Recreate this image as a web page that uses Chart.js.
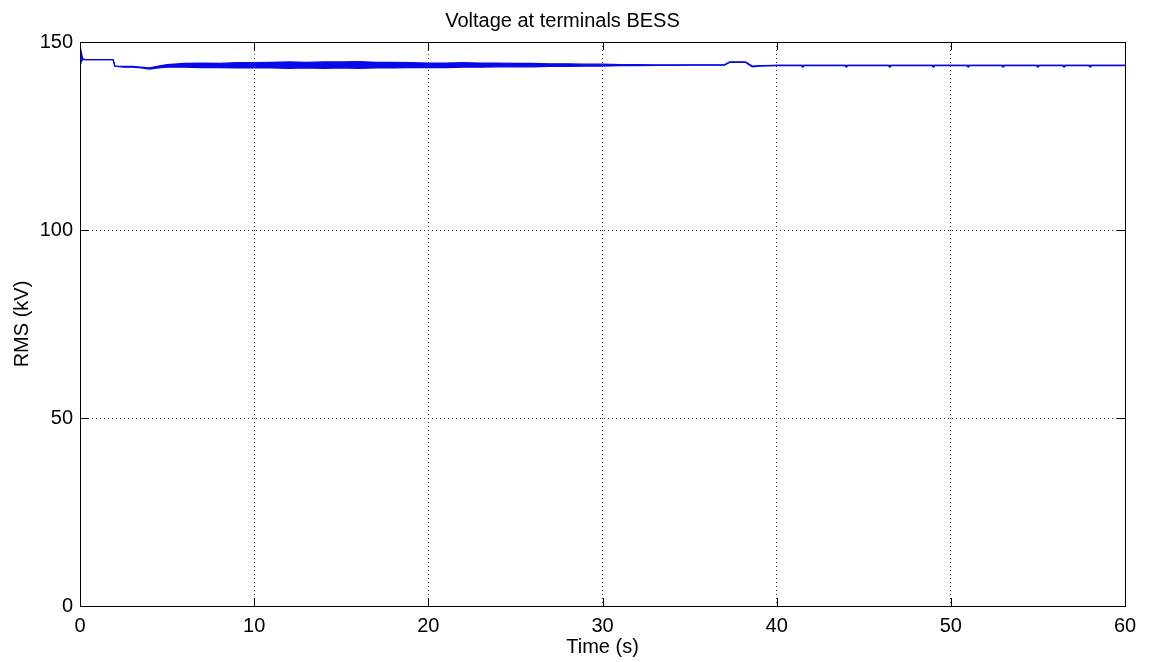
<!DOCTYPE html>
<html>
<head>
<meta charset="utf-8">
<script src="https://cdn.jsdelivr.net/npm/chart.js@4.4.1/dist/chart.umd.min.js"></script>
<style>
  html, body { margin: 0; padding: 0; background: #ffffff; }
  #wrap { width: 1152px; height: 662px; }
</style>
</head>
<body>
<div id="wrap"><canvas id="c" width="1152" height="662"></canvas></div>
<script>
// Sample times (s)
const timeS = [0, 0.05, 0.15, 0.3, 1.9, 2.0, 2.5, 3, 3.5, 4, 4.5, 5, 6, 7, 8, 9, 10, 11, 12, 13, 14, 15, 16, 17, 18, 19, 20,
  21, 22, 23, 24, 25, 26, 27, 28, 29, 30, 31, 32, 33, 34, 35, 36, 37, 37.3, 38.2, 38.6, 39, 40,
  41.4, 41.5, 41.6, 43.9, 44.0, 44.1, 46.4, 46.5, 46.6, 48.9, 49.0, 49.1, 50.9, 51.0, 51.1,
  52.9, 53.0, 53.1, 54.9, 55.0, 55.1, 56.4, 56.5, 56.6, 57.9, 58.0, 58.1, 60];

// Upper envelope of the RMS voltage oscillation (kV)
const vUpper = [145.0, 147.8, 145.6, 145.3, 145.3, 143.6, 143.5, 143.5, 143.3, 143.1, 143.6, 144.0, 144.3, 144.4, 144.3, 144.5,
  144.5, 144.6, 144.7, 144.6, 144.7, 144.7, 144.8, 144.6, 144.6, 144.5, 144.4, 144.4, 144.5, 144.4, 144.4, 144.3, 144.3, 144.2,
  144.2, 144.1, 144.1, 144.0, 144.0, 143.9, 143.9, 143.9, 143.9, 143.9, 144.7, 144.7, 143.6, 143.7, 143.8,
  143.8, 143.8, 143.8, 143.8, 143.8, 143.8, 143.8, 143.8, 143.8, 143.8, 143.8, 143.8, 143.8, 143.8, 143.8,
  143.8, 143.8, 143.8, 143.8, 143.8, 143.8, 143.8, 143.8, 143.8, 143.8, 143.8, 143.8, 143.8];

// Lower envelope of the RMS voltage oscillation (kV)
const vLower = [145.0, 144.6, 145.3, 145.3, 145.3, 143.6, 143.3, 143.3, 143.1, 142.8, 143.1, 143.3, 143.3, 143.2, 143.2, 143.1,
  143.1, 143.1, 143.0, 143.1, 143.0, 143.1, 143.0, 143.1, 143.1, 143.2, 143.2, 143.2, 143.3, 143.3, 143.4, 143.4, 143.4, 143.5,
  143.5, 143.6, 143.6, 143.7, 143.7, 143.8, 143.8, 143.85, 143.85, 143.85, 144.6, 144.6, 143.4, 143.6, 143.75,
  143.75, 143.3, 143.75, 143.75, 143.3, 143.75, 143.75, 143.3, 143.75, 143.75, 143.3, 143.75, 143.75, 143.3, 143.75,
  143.75, 143.3, 143.75, 143.75, 143.3, 143.75, 143.75, 143.3, 143.75, 143.75, 143.3, 143.75, 143.75];

const xTicks = [0, 10, 20, 30, 40, 50, 60];
const yTicks = [0, 50, 100, 150];

const titleText = 'Voltage at terminals BESS';
const xLabel = 'Time (s)';
const yLabel = 'RMS (kV)';

const FONT = 'Liberation Sans, Arial, Helvetica, sans-serif';
const LINE = '#0808e8';

const upperPts = timeS.map((t, i) => ({ x: t, y: vUpper[i] }));
const lowerPts = timeS.map((t, i) => ({ x: t, y: vLower[i] }));

// Box around the axes plus inward tick marks on all four sides
const axesBox = {
  id: 'axesBox',
  afterDatasetsDraw(chart) {
    const { ctx, chartArea: a, scales: { x, y } } = chart;
    const len = 8;
    ctx.save();
    ctx.strokeStyle = '#000';
    ctx.lineWidth = 1;
    ctx.beginPath();
    xTicks.slice(1, -1).forEach(v => {
      const px = Math.round(x.getPixelForValue(v)) + 0.5;
      ctx.moveTo(px, a.bottom); ctx.lineTo(px, a.bottom - len);
      ctx.moveTo(px, a.top); ctx.lineTo(px, a.top + len);
    });
    yTicks.slice(1, -1).forEach(v => {
      const py = Math.round(y.getPixelForValue(v)) + 0.5;
      ctx.moveTo(a.left, py); ctx.lineTo(a.left + len, py);
      ctx.moveTo(a.right, py); ctx.lineTo(a.right - len, py);
    });
    ctx.stroke();
    ctx.strokeRect(Math.round(a.left) + 0.5, Math.round(a.top) + 0.5,
      Math.round(a.right - a.left), Math.round(a.bottom - a.top));
    ctx.restore();
  }
};

const edgeless = (ctx, lastVal) => {
  const v = ctx.tick ? ctx.tick.value : null;
  return (v === 0 || v === lastVal) ? 'rgba(0,0,0,0)' : '#333';
};

new Chart(document.getElementById('c'), {
  type: 'line',
  data: {
    datasets: [
      { data: upperPts, borderColor: LINE, borderWidth: 1.3, pointRadius: 0, fill: false, tension: 0 },
      { data: lowerPts, borderColor: LINE, borderWidth: 1.3, pointRadius: 0, fill: '-1',
        backgroundColor: LINE, tension: 0 }
    ]
  },
  options: {
    responsive: false,
    animation: false,
    layout: { padding: { left: 0, right: 27, top: 0, bottom: 0 } },
    plugins: {
      legend: { display: false },
      tooltip: { enabled: false },
      title: {
        display: true, text: titleText, color: '#000',
        font: { family: FONT, size: 20, weight: 'normal' },
        padding: { top: 9, bottom: 9 }
      }
    },
    scales: {
      x: {
        type: 'linear', min: 0, max: 60,
        afterBuildTicks: s => { s.ticks = xTicks.map(v => ({ value: v })); },
        afterFit: s => { s.height = 56; },
        border: { display: false, dash: [1, 3] },
        grid: { drawTicks: false, color: c => edgeless(c, 60), borderDash: [1, 3], lineWidth: 1 },
        ticks: { color: '#000', padding: 8, maxRotation: 0, font: { family: FONT, size: 20 } },
        title: { display: true, text: xLabel, color: '#000', font: { family: FONT, size: 20 },
          padding: { top: 0, bottom: 3 } }
      },
      y: {
        type: 'linear', min: 0, max: 150,
        afterBuildTicks: s => { s.ticks = yTicks.map(v => ({ value: v })); },
        afterFit: s => { s.width = 80; },
        border: { display: false, dash: [1, 3] },
        grid: { drawTicks: false, color: c => edgeless(c, 150), borderDash: [1, 3], lineWidth: 1 },
        ticks: { color: '#000', padding: 7, font: { family: FONT, size: 20 } },
        title: { display: true, text: yLabel, color: '#000', font: { family: FONT, size: 20 },
          padding: { top: 10, bottom: 0 } }
      }
    }
  },
  plugins: [axesBox]
});
</script>
</body>
</html>
